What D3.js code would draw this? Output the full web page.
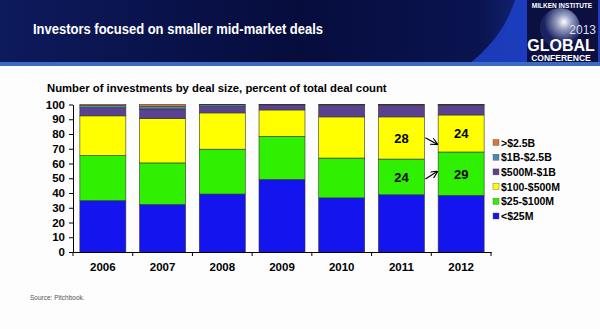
<!DOCTYPE html>
<meta charset="utf-8">
<style>
body { margin: 0; background: #fdfdfd; }
svg { display: block; font-family: "Liberation Sans", Arial, sans-serif; }
.axis text { font-weight: bold; font-size: 11.5px; fill: #000; }
.axis path, .axis line { stroke: #000; }
</style>
<body>
<svg width="600" height="329"></svg>
<script src="https://d3js.org/d3.v7.min.js"></script>
<script>

// data, percent of total deal count
var years = ["2006", "2007", "2008", "2009", "2010", "2011", "2012"];
var sizes = ["<$25M", "$25-$100M", "$100-$500M", "$500M-$1B", "$1B-$2.5B", ">$2.5B"];
var under25 = [34.8, 32.2, 39.3, 49.2, 36.7, 38.8, 38.4];
var m25to100 = [30.6, 28.2, 30.4, 29.2, 27.0, 24.2, 29.4];
var m100to500 = [26.9, 30.1, 24.6, 17.9, 27.9, 28.6, 25.1];
var m500to1b = [5.5, 6.5, 4.3, 3.5, 7.6, 7.7, 6.5];
var b1to25 = [1.4, 1.6, 1.2, 0.2, 0.6, 0.5, 0.4];
var over25 = [0.8, 1.4, 0.2, 0.0, 0.2, 0.2, 0.2];
var yTicks = [0, 10, 20, 30, 40, 50, 60, 70, 80, 90, 100];
var colors = ["#1414ee", "#2ef000", "#ffff00", "#5a4290", "#4a8aaa", "#d67a38"];
// labels shown on 2011 / 2012 segments
var callouts = [
  {year: "2011", seg: 2, text: "28"}, {year: "2011", seg: 1, text: "24"},
  {year: "2012", seg: 2, text: "24"}, {year: "2012", seg: 1, text: "29"}
];
var arrows = [[77.5, 73], [49.5, 54.5]];

var series = [under25, m25to100, m100to500, m500to1b, b1to25, over25];
var table = years.map(function(y, i) {
  var row = {year: y};
  sizes.forEach(function(s, k) { row[s] = series[k][i]; });
  return row;
});
var stacked = d3.stack().keys(sizes)(table);

var svg = d3.select("svg");

// header band
var defs = svg.append("defs");
var hg = defs.append("linearGradient").attr("id", "hdr");
hg.append("stop").attr("offset", "0").attr("stop-color", "#0d1a5c");
hg.append("stop").attr("offset", "0.5").attr("stop-color", "#060c3c");
hg.append("stop").attr("offset", "0.8").attr("stop-color", "#0a1450");
hg.append("stop").attr("offset", "1").attr("stop-color", "#1e3fb0");
var gl = defs.append("radialGradient").attr("id", "globe").attr("cx", "0.6").attr("cy", "0.35");
gl.append("stop").attr("offset", "0").attr("stop-color", "#ffffff");
gl.append("stop").attr("offset", "0.35").attr("stop-color", "#9aa3c4");
gl.append("stop").attr("offset", "1").attr("stop-color", "#1a2260");

svg.append("rect").attr("width", 600).attr("height", 329).attr("fill", "#fdfdfd");
svg.append("rect").attr("width", 600).attr("height", 63).attr("fill", "url(#hdr)");
svg.append("path")
  .attr("d", "M470,63 C500,40 510,15 515,0 L600,0 L600,63 Z")
  .attr("fill", "#1d3fc4").attr("opacity", 0.9);
svg.append("rect").attr("y", 62).attr("width", 600).attr("height", 4).attr("fill", "#3a6cc4");
svg.append("rect").attr("x", 527).attr("y", 0).attr("width", 71).attr("height", 62).attr("fill", "#0c1040");
svg.append("circle").attr("cx", 560).attr("cy", 28).attr("r", 20).attr("fill", "url(#globe)");
svg.append("text").attr("x", 562).attr("y", 8).attr("text-anchor", "middle")
  .attr("fill", "#fff").attr("font-size", 6.5).attr("font-weight", "bold").text("MILKEN INSTITUTE");
svg.append("text").attr("x", 596).attr("y", 34).attr("text-anchor", "end")
  .attr("fill", "#dde").attr("font-size", 12).text("2013");
svg.append("text").attr("x", 561).attr("y", 51).attr("text-anchor", "middle")
  .attr("fill", "#fff").attr("font-size", 16).attr("font-weight", "bold").text("GLOBAL");
svg.append("text").attr("x", 561).attr("y", 60.5).attr("text-anchor", "middle")
  .attr("fill", "#fff").attr("font-size", 8.5).attr("font-weight", "bold").text("CONFERENCE");

svg.append("text").attr("x", 33).attr("y", 34)
  .attr("fill", "#fff").attr("font-size", 14.5).attr("font-weight", "bold")
  .attr("textLength", 290).attr("lengthAdjust", "spacingAndGlyphs")
  .text("Investors focused on smaller mid-market deals");

svg.append("text").attr("x", 47).attr("y", 92)
  .attr("font-size", 11.3).attr("font-weight", "bold")
  .text("Number of investments by deal size, percent of total deal count");

svg.append("text").attr("x", 30).attr("y", 300)
  .attr("font-size", 6.5).attr("fill", "#555").text("Source: Pitchbook.");

// chart
var x = d3.scaleBand().domain(years).range([73, 491]).paddingInner(0.23).paddingOuter(0.115);
var y = d3.scaleLinear().domain([0, 100]).range([252, 104.5]);

svg.append("g").selectAll("g")
  .data(stacked)
  .join("g")
    .attr("fill", function(d, i) { return colors[i]; })
  .selectAll("rect")
  .data(function(d) { return d; })
  .join("rect")
    .attr("x", function(d) { return x(d.data.year); })
    .attr("width", x.bandwidth())
    .attr("y", function(d) { return y(d[1]); })
    .attr("height", function(d) { return y(d[0]) - y(d[1]); })
    .attr("stroke", "#333").attr("stroke-width", 0.6);

var yAxis = svg.append("g").attr("class", "axis")
  .attr("transform", "translate(73,0)")
  .call(d3.axisLeft(y).tickValues(yTicks).tickSize(4).tickSizeOuter(0).tickPadding(4));

var xAxis = svg.append("g").attr("class", "axis")
  .attr("transform", "translate(0,252)")
  .call(d3.axisBottom(x).tickSize(0).tickSizeOuter(0).tickPadding(11));
// ticks between categories
xAxis.selectAll(".sep")
  .data(years)
  .join("line").attr("class", "sep")
    .attr("x1", function(d) { return x(d) + x.bandwidth() + x.step() * x.paddingInner() / 2; })
    .attr("x2", function(d) { return x(d) + x.bandwidth() + x.step() * x.paddingInner() / 2; })
    .attr("y1", 0).attr("y2", 4);
xAxis.append("line").attr("x1", 73).attr("x2", 73).attr("y1", 0).attr("y2", 4);

// callout numbers
svg.append("g").selectAll("text")
  .data(callouts)
  .join("text")
    .attr("x", function(d) { return x(d.year) + x.bandwidth() / 2; })
    .attr("y", function(d) {
      var s = stacked[d.seg][years.indexOf(d.year)];
      return y((s[0] + s[1]) / 2) + 5;
    })
    .attr("text-anchor", "middle").attr("font-size", 13).attr("font-weight", "bold")
    .text(function(d) { return d.text; });

defs.append("marker").attr("id", "arr").attr("viewBox", "0 0 10 10")
  .attr("refX", 9).attr("refY", 5).attr("markerWidth", 6).attr("markerHeight", 6)
  .attr("orient", "auto")
  .append("path").attr("d", "M0,0 L10,5 L0,10").attr("fill", "none").attr("stroke", "#000").attr("stroke-width", 1.6);

svg.append("g").selectAll("line")
  .data(arrows)
  .join("line")
    .attr("x1", x("2011") + x.bandwidth() + 1)
    .attr("x2", x("2012") - 1)
    .attr("y1", function(d) { return y(d[0]); })
    .attr("y2", function(d) { return y(d[1]); })
    .attr("stroke", "#000").attr("stroke-width", 1.2)
    .attr("marker-end", "url(#arr)");

// legend
var legend = svg.append("g").selectAll("g")
  .data(sizes.slice().reverse())
  .join("g")
    .attr("transform", function(d, i) { return "translate(493," + (142.5 + i * 14.7) + ")"; });
legend.append("rect").attr("x", 0).attr("y", -3).attr("width", 6).attr("height", 6)
  .attr("fill", function(d) { return colors[sizes.indexOf(d)]; })
  .attr("stroke", "#555").attr("stroke-width", 0.4);
legend.append("text").attr("x", 8).attr("y", 4)
  .attr("font-size", 10.5).attr("font-weight", "bold")
  .text(function(d) { return d; });

</script>
</body>
